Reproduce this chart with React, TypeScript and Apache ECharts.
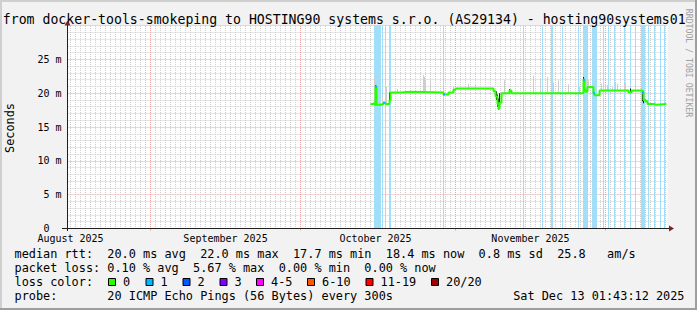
import React, { useEffect, useRef } from 'react';
import * as echarts from 'echarts';

const FONT = '"DejaVu Sans Mono", "Liberation Mono", monospace';

const titleText = 'from docker-tools-smokeping to HOSTING90 systems s.r.o. (AS29134) - hosting90systems01';
const unitLabel = 'Seconds';
const watermarkText = 'RRDTOOL / TOBI OETIKER';

// y axis (milliseconds)
const yMax = 30;
const yLabelValues = [0, 5, 10, 15, 20, 25];
const yLabelTexts = ['0\u00a0\u00a0', '5 m', '10 m', '15 m', '20 m', '25 m'];

// x axis: days since 2025-08-01 00:00
const dayMin = 14.4;
const dayMax = 134.4;
const monthStartDays = [31, 61, 92, 122];
const monthLabelDays = [15, 46, 76, 107];
const monthLabels = ['August 2025', 'September 2025', 'October 2025', 'November 2025'];

// median rtt (ms), step values
const medianDays = [75.0, 75.4, 75.8, 76.0, 76.2, 77.0, 77.6, 78.0, 78.8, 79.0, 81.0, 83.0, 89.6, 90.6, 91.6, 92.0, 99.6, 100.0, 100.4, 100.6, 100.8, 101.2, 102.8, 103.2, 117.6, 117.8, 118.0, 118.4, 119.6, 119.8, 120.8, 126.6, 127.2, 129.4, 129.6, 130.0, 130.4, 131.6, 132.2, 134.2];
const medianMs = [18.4, 18.5, 18.3, 21.0, 18.3, 18.4, 18.6, 18.4, 18.9, 20.1, 20.2, 20.1, 19.8, 20.1, 20.5, 20.7, 20.3, 19.5, 18.4, 17.7, 18.6, 20.0, 20.4, 20.0, 22.0, 20.5, 20.2, 20.9, 20.0, 19.7, 20.4, 20.1, 20.4, 20.1, 19.0, 18.8, 18.4, 18.3, 18.4, 18.4];

// median samples that had 1/20 loss: [day, ms]
const lossMedianPoints = [[76.0, 21.0], [77.6, 18.6], [89.6, 19.8], [117.6, 22.0], [119.6, 20.0], [129.4, 20.1]];

// smoke (individual ping spread): [day, low ms, high ms]
const smokeLight = [
  [75.8, 18.2, 22.4], [76.0, 18.2, 22.0], [76.2, 18.2, 21.5], [76.4, 18.3, 20.0],
  [77.4, 18.3, 19.5], [78.2, 18.3, 20.9], [80.4, 20.0, 20.6], [85.6, 20.1, 22.7],
  [85.8, 20.1, 22.4], [86.0, 20.1, 21.8], [87.0, 20.1, 21.9], [89.6, 19.7, 21.0],
  [91.6, 20.1, 21.0], [94.6, 20.6, 21.4], [96.0, 20.6, 21.2], [101.8, 20.0, 21.9],
  [107.6, 20.0, 22.6], [109.0, 20.0, 22.1], [110.4, 20.0, 22.4], [111.6, 20.0, 21.6],
  [112.6, 20.0, 21.9], [114.6, 20.0, 21.3], [116.8, 20.0, 21.0], [118.0, 20.2, 22.3],
  [118.2, 20.2, 22.0], [118.6, 20.8, 21.9], [121.2, 20.4, 21.4], [122.0, 20.4, 21.3],
  [122.4, 20.4, 21.2], [123.4, 20.4, 20.9], [124.0, 20.4, 21.5], [124.4, 20.4, 21.4],
  [125.8, 20.4, 21.5], [126.0, 20.4, 21.6],
];
const smokeDark = [
  [76.0, 18.3, 21.2], [78.8, 18.5, 20.1], [100.2, 19.0, 20.3], [100.4, 18.0, 19.8],
  [100.6, 17.6, 19.2], [100.8, 17.8, 20.0], [102.8, 20.0, 20.6], [117.6, 20.0, 22.4],
  [117.8, 20.2, 21.4], [127.0, 20.1, 20.7], [129.4, 18.8, 20.3], [129.6, 18.5, 19.5],
];

// loss background columns: [first day, last day]
const lossBands = [
  [75.8, 77.0], [77.4, 77.4], [78.0, 78.0], [78.8, 79.0], [89.6, 89.6], [105.6, 105.6],
  [109.4, 109.4], [111.2, 111.4], [113.4, 113.4], [116.6, 116.6], [117.6, 118.4],
  [119.4, 120.2], [121.6, 121.6], [122.6, 122.6], [123.8, 123.8], [125.8, 125.8],
  [127.0, 127.0], [128.0, 128.0], [129.2, 129.8], [130.6, 130.6], [131.8, 131.8],
  [133.0, 133.0], [133.8, 133.8],
];

// legend
const rttStats = [['median rtt:', 0], ['20.0 ms avg', 13], ['22.0 ms max', 26], ['17.7 ms min', 39], ['18.4 ms now', 52], ['0.8 ms sd', 65], ['25.8', 76], ['am/s', 83]];
const lossStats = [['packet loss:', 0], ['0.10 % avg', 13], ['5.67 % max', 25], ['0.00 % min', 37], ['0.00 % now', 49]];
const lossLabels = ['0', '1', '2', '3', '4-5', '6-10', '11-19', '20/20'];
const lossColors = ['#26ff00', '#00b8ff', '#0059ff', '#7e00ff', '#ff00ff', '#ff5500', '#ff0000', '#a10000'];
const lossSwatchX = [108, 145.5, 182.5, 219.5, 256, 307, 365.5, 431];
const probeText = '20 ICMP Echo Pings (56 Bytes) every 300s';
const dateText = 'Sat Dec 13 01:43:12 2025';

const GRID = '#cdcdcd';
const MGRID = '#eba3a3';
const ARROW = '#801f1f';
const AXIS = '#1f1f1f';
const BAND = '#a3def8';

export default function App() {
  const ref = useRef<HTMLDivElement>(null);
  useEffect(() => {
    if (!ref.current) return;
    const chart = echarts.init(ref.current, undefined, { renderer: 'svg', width: 697, height: 310 });
    const gridDays: number[] = [];
    for (let d = Math.ceil(dayMin); d <= Math.floor(dayMax); d++) gridDays.push(d);

    const LX = 14.5;
    const CW = 7.14;
    const LFS = 11.86;
    const txt = (text: string, x: number, y: number, extra: any = {}) => ({
      type: 'text', x, y, z: 50, silent: true,
      style: { text, fill: '#000', fontFamily: FONT, fontSize: LFS, align: 'left', verticalAlign: 'middle', ...extra },
    });
    const graphics: any[] = [];
    // frame shading
    graphics.push({ type: 'rect', shape: { x: 0, y: 0, width: 697, height: 2 }, style: { fill: '#cfcfcf' }, z: 50 });
    graphics.push({ type: 'rect', shape: { x: 0, y: 0, width: 2, height: 310 }, style: { fill: '#cfcfcf' }, z: 50 });
    graphics.push({ type: 'rect', shape: { x: 0, y: 308, width: 697, height: 2 }, style: { fill: '#9e9e9e' }, z: 51 });
    graphics.push({ type: 'rect', shape: { x: 695, y: 0, width: 2, height: 310 }, style: { fill: '#9e9e9e' }, z: 51 });
    // title
    graphics.push(txt(titleText, 344.2, 19, { fontSize: 13.2, align: 'center' }));
    // unit label
    graphics.push({ ...txt(unitLabel, 10, 128, { align: 'center' }), rotation: Math.PI / 2 });
    // watermark
    graphics.push({ ...txt(watermarkText, 689, 63, { fontSize: 8.2, fill: '#a0a0a0', align: 'center' }), rotation: -Math.PI / 2 });
    // axes
    graphics.push({ type: 'line', z: 60, shape: { x1: 62, y1: 228.5, x2: 669, y2: 228.5 }, style: { stroke: AXIS, lineWidth: 1 } });
    graphics.push({ type: 'line', z: 60, shape: { x1: 67.5, y1: 231, x2: 67.5, y2: 25 }, style: { stroke: AXIS, lineWidth: 1 } });
    graphics.push({ type: 'polygon', z: 61, shape: { points: [[669, 225.5], [674, 228.5], [669, 231.5]] }, style: { fill: ARROW } });
    graphics.push({ type: 'polygon', z: 61, shape: { points: [[64.5, 25.5], [67.5, 20.5], [70.5, 25.5]] }, style: { fill: ARROW } });
    // legend rows
    rttStats.forEach(([t, i]) => graphics.push(txt(t as string, LX + (i as number) * CW, 254.3)));
    lossStats.forEach(([t, i]) => graphics.push(txt(t as string, LX + (i as number) * CW, 268.3)));
    graphics.push(txt('loss color:', LX, 282.3));
    lossLabels.forEach((lab, i) => {
      graphics.push({ type: 'rect', z: 50, shape: { x: lossSwatchX[i] + 0.5, y: 278.5, width: 7, height: 7 }, style: { fill: lossColors[i], stroke: '#000', lineWidth: 1 } });
      graphics.push(txt(lab, lossSwatchX[i] + 15, 282.3));
    });
    graphics.push(txt('probe:', LX, 296));
    graphics.push(txt(probeText, LX + 13 * CW, 296));
    graphics.push(txt(dateText, 684.5, 296, { align: 'right' }));

    const colRect = (api: any, day: number, lo: number, hi: number, fill: string) => {
      const t = api.coord([day, hi]);
      const b = api.coord([day, lo]);
      return { type: 'rect', shape: { x: Math.floor(t[0]), y: t[1], width: 1, height: Math.max(1, b[1] - t[1]) }, style: { fill } };
    };

    chart.setOption({
      animation: false,
      grid: { left: 67.5, top: 25.5, width: 600, height: 203, show: true, backgroundColor: '#ffffff', borderWidth: 0 },
      xAxis: {
        type: 'value', min: dayMin, max: dayMax,
        axisLine: { show: false },
        axisTick: { show: true, customValues: monthStartDays, length: 2, lineStyle: { color: MGRID } },
        axisLabel: {
          customValues: monthLabelDays, margin: 5, color: '#000', fontFamily: FONT, fontSize: 10,
          formatter: (v: number) => monthLabels[monthLabelDays.indexOf(v)] ?? '',
        },
        splitLine: { show: false },
      },
      yAxis: {
        type: 'value', min: 0, max: yMax, interval: 1,
        axisLine: { show: false },
        axisTick: { show: false },
        axisLabel: {
          customValues: yLabelValues, margin: 6, color: '#000', fontFamily: FONT, fontSize: 10,
          formatter: (v: number) => yLabelTexts[yLabelValues.indexOf(v)] ?? '',
        },
        splitLine: { show: true, lineStyle: { color: [MGRID, GRID, GRID, GRID, GRID], type: [1, 1], width: 1 } },
      },
      graphic: graphics,
      series: [
        {
          type: 'custom', name: 'dayGrid', silent: true, z: 1,
          data: gridDays.map((d) => [d]), encode: { x: 0 },
          renderItem: (_p: any, api: any) => {
            const t = api.coord([api.value(0), yMax]);
            const b = api.coord([api.value(0), 0]);
            const x = Math.floor(t[0]) + 0.5;
            return { type: 'line', shape: { x1: x, y1: Math.round(t[1]), x2: x, y2: Math.round(b[1]) }, style: { stroke: GRID, lineWidth: 1, lineDash: [1, 1] } };
          },
        },
        {
          type: 'custom', name: 'monthGrid', silent: true, z: 1,
          data: monthStartDays.map((d) => [d]), encode: { x: 0 },
          renderItem: (_p: any, api: any) => {
            const t = api.coord([api.value(0), yMax]);
            const b = api.coord([api.value(0), 0]);
            const x = Math.floor(t[0]) + 0.5;
            return { type: 'line', shape: { x1: x, y1: Math.round(t[1]), x2: x, y2: Math.round(b[1]) }, style: { stroke: MGRID, lineWidth: 1, lineDash: [1, 1] } };
          },
        },
        {
          type: 'custom', name: 'lossBackground', silent: true, z: 2,
          data: lossBands, encode: { x: [0, 1] },
          renderItem: (_p: any, api: any) => {
            const a = api.coord([api.value(0), yMax]);
            const b = api.coord([api.value(1), 0]);
            const x0 = Math.floor(a[0]);
            const x1 = Math.floor(b[0]) + 1;
            return { type: 'rect', shape: { x: x0, y: a[1], width: x1 - x0, height: b[1] - a[1] }, style: { fill: BAND } };
          },
        },
        {
          type: 'custom', name: 'smoke', silent: true, z: 3,
          data: smokeLight, encode: { x: 0, y: [1, 2] },
          renderItem: (_p: any, api: any) => colRect(api, api.value(0), api.value(1), api.value(2), '#cdcdcd'),
        },
        {
          type: 'custom', name: 'smokeDark', silent: true, z: 4,
          data: smokeDark, encode: { x: 0, y: [1, 2] },
          renderItem: (_p: any, api: any) => colRect(api, api.value(0), api.value(1), api.value(2), '#1e1e1e'),
        },
        {
          type: 'line', name: 'median rtt', z: 5, step: 'end', showSymbol: false, symbol: 'none', silent: true,
          data: medianDays.map((d, i) => [d, medianMs[i]]),
          lineStyle: { color: lossColors[0], width: 2 },
        },
        {
          type: 'custom', name: 'medianLoss', silent: true, z: 6,
          data: lossMedianPoints, encode: { x: 0, y: 1 },
          renderItem: (_p: any, api: any) => {
            const c = api.coord([api.value(0), api.value(1)]);
            return { type: 'rect', shape: { x: Math.floor(c[0]), y: c[1] - 1, width: 2, height: 2 }, style: { fill: lossColors[1] } };
          },
        },
      ],
    });
    return () => chart.dispose();
  }, []);
  return <div ref={ref} style={{ position: 'absolute', left: 0, top: 0, width: 697, height: 310, background: '#f2f2f2' }} />;
}
